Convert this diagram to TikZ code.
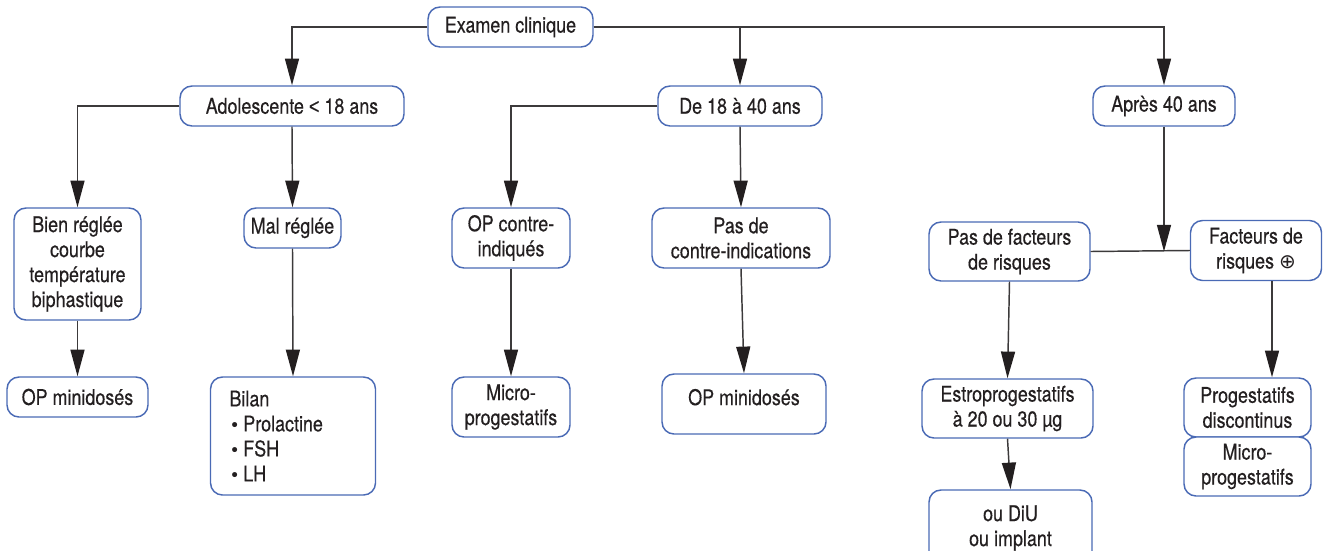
\documentclass[tikz,border=0pt]{standalone}
\usepackage{fontspec}
\setmainfont{TeX Gyre Heros}[FakeStretch=0.83,FakeBold=0.35]
\newfontfamily\symbolfont{DejaVu Sans}
\newfontfamily\lessfont{Liberation Sans}[FakeStretch=0.83,FakeBold=0.35]
\usetikzlibrary{arrows.meta}
\definecolor{boxblue}{HTML}{4A6AB5}
\definecolor{ink}{HTML}{231F20}
\definecolor{wire}{HTML}{3C3A3B}
\newcommand{\listdot}{{\symbolfont\fontsize{13}{13}\selectfont •}\,}

\begin{document}
\begin{tikzpicture}[x=0.75pt,y=-0.75pt,
  box/.style={draw=boxblue, line width=1.1pt, rounded corners=9pt, align=center,
    text=ink, inner sep=0pt, fill=white,
    font=\fontsize{16.2}{18.75}\selectfont},
  wh/.style 2 args={minimum width=#1*0.75pt, minimum height=#2*0.75pt},
  link/.style={draw=wire, line width=1.1pt},
  arr/.style={link, -{Triangle[length=20pt,width=10.5pt,color=ink]}}]

\clip (0,0) rectangle (1328,550);

% top level
\node[box, wh={165}{40}] (exam) at (510.5,27) {Examen clinique};
\node[box, wh={224}{40}] (ado) at (292,106) {Adolescente {\lessfont <} 18 ans};
\node[box, wh={164}{40}] (de18) at (740,106) {De 18 à 40 ans};
\node[box, wh={142}{40}] (apres) at (1164,106) {Après 40 ans};

% adolescents
\node[box, wh={127}{112}] (bien) at (77.5,264) {Bien réglée\\courbe\\température\\biphastique};
\node[box, wh={141}{40}] (op1) at (77.5,397) {OP minidosés};
\node[box, wh={97}{40}] (mal) at (292.5,228) {Mal réglée};
\node[box, wh={165}{118}, align=left, text width=95.25pt, inner xsep=14.25pt] (bilan) at (293,436)
  {Bilan\\\listdot Prolactine\\\listdot FSH\\\listdot LH};

% 18 to 40 years
\node[box, wh={118}{60}] (opci) at (511,238) {OP contre-\\indiqués};
\node[box, wh={118}{60}] (micro1) at (511,407) {Micro-\\progestatifs};
\node[box, wh={178}{60}] (pasci) at (741,238) {Pas de\\contre-indications};
\node[box, wh={164}{60}, text depth=10.5pt] (op2) at (744,404) {OP minidosés};

% after 40 years
\node[box, wh={161}{59}] (pasfr) at (1009.5,251.5) {Pas de facteurs\\de risques};
\node[box, wh={131}{60}] (fr) at (1256,250.5) {Facteurs de\\risques {\symbolfont\fontsize{15}{15}\selectfont ⊕}};
\node[box, wh={171}{59}] (estro) at (1007.5,408.5) {Estroprogestatifs\\à 20 ou 30 µg};
\node[box, wh={163}{76}] (diu) at (1010.5,528) {ou DiU\\ou implant};
\node[box, wh={127}{59}] (prog) at (1247.5,407.5) {Progestatifs\\discontinus};
\node[box, wh={127}{59}] (micro2) at (1247.5,466.5) {Micro-\\progestatifs};

% connectors
\draw[arr] (exam.west) -| (ado.north);
\draw[arr] (exam.east) -| (de18.north);
\draw[arr] (exam.east) -| (apres.north);

\draw[arr] (ado.west) -| (bien.north);
\draw[arr] (ado.south) -- (mal.north);
\draw[arr] (bien.south) -- (op1.north);
\draw[arr] (mal.south) -- (bilan.north);

\draw[arr] (de18.west) -| (opci.north);
\draw[arr] (de18.south) -- (pasci.north);
\draw[arr] (opci.south) -- (micro1.north);
\draw[arr] (pasci.south) -- (op2.north);

\coordinate (junc) at (apres.south |- pasfr.east);
\draw[link] (pasfr.east) -- (fr.west);
\draw[arr] (apres.south) -- (junc);
\draw[arr] (pasfr.south) -- (estro.north);
\draw[arr] (estro.south) -- (diu.north);
\draw[arr] ([xshift=12pt]fr.south) -- ([xshift=12pt]fr.south |- prog.north);
\end{tikzpicture}
\end{document}
